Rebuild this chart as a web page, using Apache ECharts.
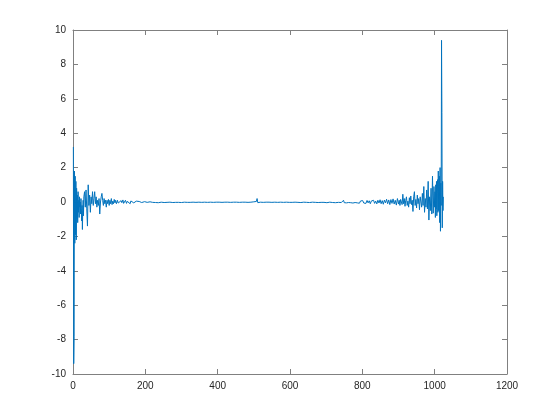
<!DOCTYPE html>
<html>
<head>
<meta charset="utf-8">
<script src="https://cdn.jsdelivr.net/npm/echarts@6/dist/echarts.min.js"></script>
<style>html,body{margin:0;padding:0;background:#fff}#c{width:560px;height:420px}</style>
</head>
<body>
<div id="c"></div>
<script>
// [sample index, value]
const headPts = [[1,3.2],[2,-9.4],[3,-7.8],[4,1.8],[5,-2.4],[6,1.5],[7,-1.9],[8,1.2],[9,-2.2],[10,0.8],
[11,-1.0],[12,0.4],[13,-1.2],[14,0.6],[15,-0.6],[16,0.1],[17,-0.9],[18,0.3],[19,-0.3],[20,0.0],
[21,-0.7],[22,0.2],[23,-0.4],[24,-1.1],[25,-0.2],[26,-1.6],[27,-0.5],[28,0.1],[29,-0.8],[30,0.3],
[32,0.6],[34,-0.3],[36,0.7],[38,-0.4],[40,-1.4],[42,1.0],[44,-0.2],[46,0.4],[48,-0.6],[50,0.3],
[52,-0.1],[54,0.6],[56,-0.2],[58,0.2],[60,0.6],[62,-0.1],[64,0.3],[66,-0.3],[68,0.1],[70,-0.2],
[72,0.2],[74,-0.7],[76,0.0],[78,0.3],[80,0.5],[82,0.1],[84,-0.2],[86,0.2],[88,-0.1],[90,0.1],
[92,-0.3],[94,0.1],[96,-0.1],[98,0.15],[100,-0.2],[102,0.1],[104,-0.1],[106,0.2],[108,-0.15],[110,0.05],
[112,-0.1],[114,0.15],[116,-0.05],[118,0.1],[120,-0.1]];

const midPts = [[123,0.1],[125,-0.06],[128,0.04],[130,-0.1],[133,0.08],[135,-0.04],[138,0.12],[140,-0.08],[143,0.02],[145,0.1],
[148,-0.08],[150,0.04],[153,-0.07],[155,0.08],[158,-0.1],[160,0.06],[163,-0.02],[165,0.08],[168,-0.05],[170,0.03],
[173,-0.07],[175,0.05],[178,0.08],[180,-0.04],[183,0.03],[185,-0.06],[188,0.04],[190,-0.03],[193,0.05],[195,-0.04],
[198,0.02],[200,-0.05],[203,0.04],[205,-0.02],[208,0.04],[210,-0.04],[213,0.01],[215,-0.04],[218,0.03],[220,-0.02],
[224,0.04],[228,-0.03],[232,0.02],[236,-0.04],[240,0.03],[244,-0.01],[248,0.03],[252,-0.03],[256,0.02],[260,-0.02],
[264,0.04],[268,-0.01],[272,0.02],[276,-0.03],[280,0.01],[284,-0.02],[288,0.03],[292,-0.02],[296,0.01],[300,-0.03],
[304,0.02],[308,-0.01],[312,0.02],[316,-0.02],[320,0.01],[324,-0.02],[328,0.03],[332,-0.01],[336,0.02],[340,-0.02],
[344,0.01],[348,-0.01],[352,0.02],[356,-0.02],[360,0.01],[364,-0.01],[368,0.02],[372,-0.02],[376,0.01],[380,-0.01],
[384,0.02],[388,-0.02],[392,0.01],[396,-0.01],[400,0.02],[404,-0.01],[408,0.01],[412,-0.02],[416,0.01],[420,-0.01],
[424,0.02],[428,-0.01],[432,0.01],[436,-0.02],[440,0.01],[444,-0.01],[448,0.02],[452,-0.01],[456,0.01],[460,-0.02],
[464,0.01],[468,-0.01],[472,0.02],[476,-0.01],[480,0.01],[484,-0.02],[488,0.01],[492,-0.01],[496,0.02],[500,0.01],
[504,-0.01],[507,0.03],[509,0.2],[511,-0.04],[514,0.02],[518,-0.01],[522,0.01],[526,-0.02],[530,0.01],[534,-0.01],
[538,0.02],[542,-0.01],[546,0.01],[550,-0.02],[554,0.02],[558,-0.01],[562,0.01],[566,-0.02],[570,0.01],[574,-0.01],
[578,0.02],[582,-0.02],[586,0.01],[590,-0.01],[594,0.02],[598,-0.02],[602,0.01],[606,-0.02],[610,0.02],[614,-0.01],
[618,0.02],[622,-0.02],[626,0.01],[630,-0.03],[634,0.02],[638,-0.01],[642,0.03],[646,-0.02],[650,0.01],[654,-0.03],
[658,0.02],[662,-0.01],[666,0.03],[670,-0.02],[674,0.02],[678,-0.03],[682,0.01],[686,-0.02],[690,0.04],[694,-0.02],
[698,0.01],[702,-0.04],[706,0.03],[710,-0.01],[714,0.04],[718,-0.03],[722,0.02],[726,-0.04],[730,0.03],[734,-0.02],
[738,0.05],[742,-0.03],[746,0.02],[748,0.1],[750,-0.04],[753,0.03],[756,-0.05],[759,0.05],[762,-0.03],[765,0.06],
[768,-0.04],[771,0.02],[774,-0.06],[777,0.05],[780,-0.03],[783,0.07],[786,-0.05],[789,0.03],[792,-0.07],[795,0.06],
[798,-0.04],[801,0.08],[804,-0.06],[807,0.04],[810,-0.08],[813,0.09],[816,-0.05],[819,0.07],[822,-0.1],[825,0.06],
[828,-0.04],[831,0.1],[834,-0.08],[837,0.05],[840,-0.11],[843,0.1],[846,-0.06],[849,0.13],[852,-0.1],[855,0.08],
[858,-0.13],[861,0.11],[864,-0.05],[867,0.16],[870,-0.1],[873,0.12],[876,-0.15],[879,0.14],[882,-0.08],[885,0.18],
[888,-0.12],[891,0.1],[894,-0.18],[897,0.2],[900,-0.12]];

const tailPts = [[902,0.1],[904,-0.2],[906,0.15],[908,0.05],[910,-0.15],[912,0.45],[914,-0.1],[916,0.2],[918,-0.25],[920,0.1],
[922,0.3],[924,-0.2],[926,0.05],[928,-0.3],[930,0.25],[932,-0.1],[934,0.35],[936,-0.15],[938,0.1],[940,-0.55],
[942,0.3],[944,0.6],[946,-0.2],[948,0.15],[950,-0.35],[952,0.4],[954,-0.1],[956,0.2],[958,-0.45],[960,0.3],
[962,0.0],[964,-0.3],[966,0.5],[968,-0.2],[970,0.9],[972,-0.6],[974,0.2],[976,-0.3],[978,0.7],[980,-0.4],
[982,1.2],[984,-1.05],[986,0.3],[988,-0.5],[990,0.8],[992,-0.7],[994,1.5],[996,-0.65],[998,0.9],[1000,-0.3],
[1001,0.6],[1002,-0.9],[1003,1.0],[1004,-0.4],[1005,1.2],[1006,-0.8],[1007,0.5],[1008,1.3],[1009,-0.6],[1010,1.8],
[1011,-0.5],[1012,0.9],[1013,1.5],[1014,-1.2],[1015,2.0],[1016,-1.7],[1017,1.1],[1018,-0.2],[1019,9.4],[1020,5.2],
[1021,-1.5],[1022,1.2],[1023,-0.5],[1024,0.3]];

const xTicks = {min: 0, max: 1200, interval: 200};
const yTicks = {min: -10, max: 10, interval: 2};

const axisColor = '#808080';
const labelColor = '#262626';
const font = 'Helvetica, "Liberation Sans", Arial, sans-serif';

const chart = echarts.init(document.getElementById('c'), null, {renderer: 'canvas'});
function axisBase(show) {
  return {
    axisLine: {show: true, onZero: false, lineStyle: {color: axisColor, width: 1}},
    axisTick: {show: true, inside: true, length: 5, lineStyle: {color: axisColor, width: 1}},
    axisLabel: {show: show, color: labelColor, fontSize: 10, fontFamily: font, margin: 7,
      formatter: function (v) { return String(v); }},
    splitLine: {show: false}
  };
}
chart.setOption({
  animation: false,
  grid: {left: 73, right: 53, top: 30, bottom: 46, containLabel: false},
  xAxis: [
    Object.assign({type: 'value', position: 'bottom'}, xTicks, axisBase(true)),
    Object.assign({type: 'value', position: 'top'}, xTicks, axisBase(false))
  ],
  yAxis: [
    Object.assign({type: 'value', position: 'left'}, yTicks, axisBase(true)),
    Object.assign({type: 'value', position: 'right'}, yTicks, axisBase(false))
  ],
  series: [{
    type: 'line',
    data: headPts.concat(midPts, tailPts),
    showSymbol: false,
    symbol: 'none',
    lineStyle: {color: '#0072BD', width: 1},
    sampling: null
  }]
});
</script>
</body>
</html>
